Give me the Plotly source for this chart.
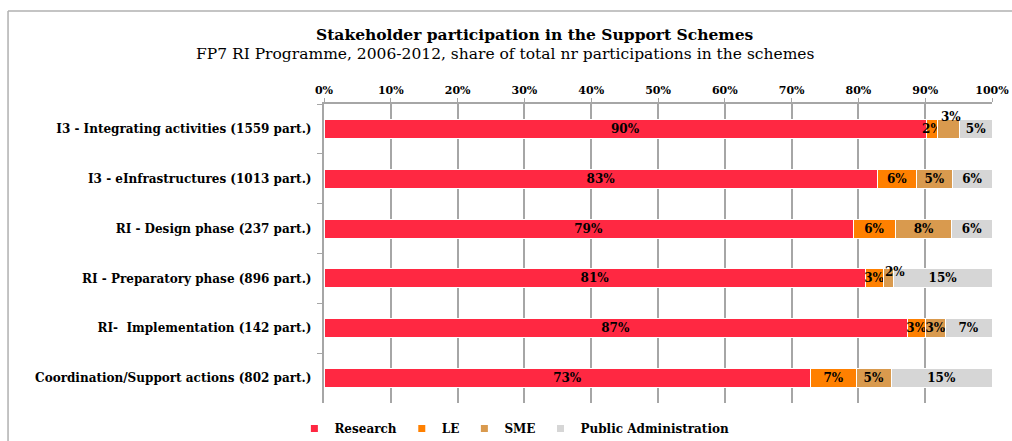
import plotly.graph_objects as go

categories = [
    "I3 - Integrating activities (1559 part.)",
    "I3 - eInfrastructures (1013 part.)",
    "RI - Design phase (237 part.)",
    "RI - Preparatory phase (896 part.)",
    "RI-  Implementation (142 part.)",
    "Coordination/Support actions (802 part.)",
]
research = [90.2, 82.9, 79.2, 81.1, 87.3, 72.9]
le = [1.7, 5.8, 6.4, 2.6, 2.8, 6.8]
sme = [3.3, 5.4, 8.4, 1.6, 2.9, 5.2]
public_admin = [4.8, 5.9, 6.0, 14.7, 7.0, 15.1]
tick_vals = [0, 10, 20, 30, 40, 50, 60, 70, 80, 90, 100]
tick_text = [f"{v}%" for v in tick_vals]

series_names = ["Research", "LE", "SME", "Public Administration"]
series_values = [research, le, sme, public_admin]
series_colors = ["#FF2842", "#FF8000", "#D99A4E", "#D6D6D6"]

# labels moved off the bar centre (Excel-style collision avoidance):
# (series index, row index) -> (x offset in axis units, yshift px)
lifted_labels = {(2, 0): (0.35, 12), (2, 3): (1.0, 6)}

FONT = "Georgia, 'DejaVu Serif', serif"
LABEL_FONT = dict(family=FONT, size=12, color="black", weight="bold")

fig = go.Figure()
annotations = []
cum = [0.0] * len(categories)
for si, (name, vals, color) in enumerate(zip(series_names, series_values, series_colors)):
    texts = []
    for ri, v in enumerate(vals):
        lab = f"{round(v)}%"
        if (si, ri) in lifted_labels:
            dx, dy = lifted_labels[(si, ri)]
            texts.append("")
            annotations.append(dict(
                x=cum[ri] + v / 2 + dx, y=categories[ri], xref="x", yref="y",
                text=lab, showarrow=False, yshift=dy,
                font=LABEL_FONT,
            ))
        else:
            texts.append(lab)
        cum[ri] += v
    fig.add_trace(go.Bar(
        name=name, y=categories, x=vals, orientation="h",
        marker=dict(color=color, line=dict(color="white", width=1)),
        text=texts, textangle=0,
        textposition="inside", insidetextanchor="middle",
        textfont=LABEL_FONT,
        width=0.38, showlegend=False,
    ))
    # compact legend entry
    fig.add_trace(go.Scatter(
        name=name, x=[None], y=[None], mode="markers",
        marker=dict(symbol="square", size=7, color=color),
        showlegend=True,
    ))

annotations += [
    dict(text="<b>Stakeholder participation in the Support Schemes</b>",
         x=0.316, y=1.232, xref="paper", yref="paper", showarrow=False,
         xanchor="center", yanchor="middle",
         font=dict(family=FONT, size=15.5, color="black")),
    dict(text="FP7 RI Programme, 2006-2012, share of total nr participations in the schemes",
         x=0.272, y=1.168, xref="paper", yref="paper", showarrow=False,
         xanchor="center", yanchor="middle",
         font=dict(family=FONT, size=15.5, color="black")),
]

fig.update_layout(
    barmode="stack",
    width=1012, height=441,
    margin=dict(l=324, r=20, t=104, b=38, autoexpand=False),
    paper_bgcolor="white", plot_bgcolor="white",
    font=dict(family=FONT, color="black"),
    uniformtext=dict(minsize=12, mode="show"),
    annotations=annotations,
    legend=dict(
        orientation="h", x=0.285, xanchor="center",
        y=-0.037, yanchor="top",
        font=dict(family=FONT, size=12, color="black", weight="bold"),
        traceorder="normal", itemwidth=30,
    ),
    xaxis=dict(
        side="top", range=[0, 100], tickvals=tick_vals, ticktext=tick_text,
        showgrid=True, gridcolor="#A6A6A6", gridwidth=1.5,
        ticks="outside", ticklen=4, tickcolor="#A6A6A6",
        tickfont=dict(family=FONT, size=11, color="black", weight="bold"),
        showline=True, linecolor="#A6A6A6", linewidth=1.5,
        zeroline=False, fixedrange=True, tickangle=0, automargin=False,
    ),
    yaxis=dict(
        categoryorder="array", categoryarray=categories, autorange="reversed",
        ticks="outside", tickson="boundaries", ticklen=5, tickcolor="#A6A6A6",
        showline=True, linecolor="#A6A6A6", linewidth=1.5,
        tickfont=dict(family=FONT, size=12, color="black", weight="bold"),
        showgrid=False, ticksuffix="  ", automargin=False,
    ),
    shapes=[
        dict(type="line", xref="paper", yref="paper", x0=-0.473, x1=1.1, y0=1.311, y1=1.311,
             line=dict(color="#B0B0B0", width=1.5)),
        dict(type="line", xref="paper", yref="paper", x0=-0.473, x1=-0.473, y0=-0.2, y1=1.311,
             line=dict(color="#B0B0B0", width=1.5)),
    ],
)

fig.write_html(
    "out.html",
    config={"displayModeBar": False},
    post_script="document.body.style.margin='0';document.body.style.overflow='hidden';",
)
